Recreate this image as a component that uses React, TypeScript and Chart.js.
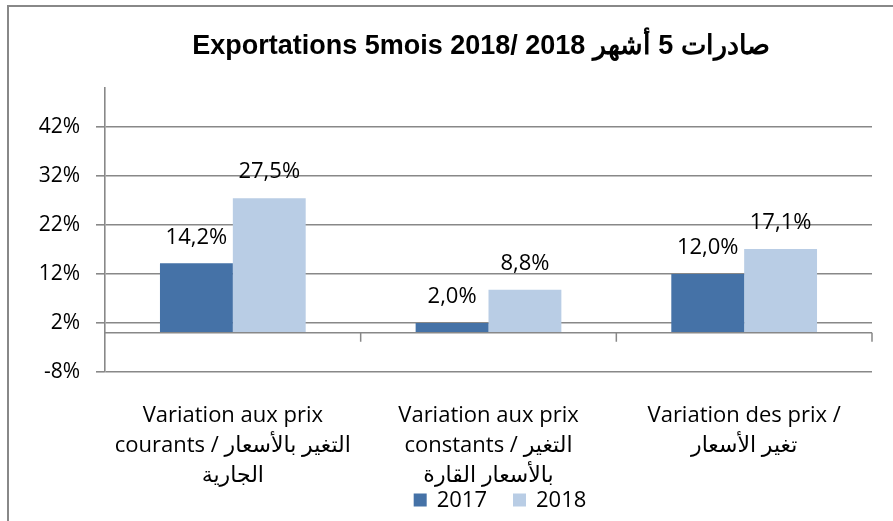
import React, { useEffect, useRef } from "react";
import { Chart, registerables } from "chart.js";

Chart.register(...registerables);

const titleText = "Exportations 5mois 2018/ 2018 صادرات 5 أشهر";
const categories: string[][] = [
  ["Variation aux prix", "courants / التغير بالأسعار", "الجارية"],
  ["Variation aux prix", "constants / التغير", "بالأسعار القارة"],
  ["Variation des prix /", "تغير الأسعار"],
];
const seriesNames = ["2017", "2018"];
const values2017 = [14.2, 2.0, 12.0];
const values2018 = [27.5, 8.8, 17.1];
const yTicks = [-8, 2, 12, 22, 32, 42];
const yMin = -8;
const yMax = 50;

const colors = ["#4572a7", "#b9cde5"];
const gridColor = "#888888";
const fontFamily = "'Open Sans', 'DejaVu Sans', sans-serif";

const fmt = (v: number) => v.toFixed(1).replace(".", ",") + "%";

const customPlugin = {
  id: "custom",
  beforeDraw(chart: any) {
    const ctx = chart.ctx;
    ctx.save();
    ctx.fillStyle = "#ffffff";
    ctx.fillRect(0, 0, chart.width, chart.height);
    ctx.strokeStyle = gridColor;
    ctx.lineWidth = 2;
    ctx.beginPath();
    ctx.moveTo(8, chart.height);
    ctx.lineTo(8, 6);
    ctx.lineTo(chart.width, 6);
    ctx.stroke();
    ctx.fillStyle = "#000";
    ctx.font = "bold 27px 'Liberation Sans', Arial, sans-serif";
    ctx.textAlign = "center";
    ctx.textBaseline = "middle";
    ctx.fillText(titleText, 481, 47);
    ctx.restore();
  },
  afterDatasetsDraw(chart: any) {
    const ctx = chart.ctx;
    const area = chart.chartArea;
    const y0 = chart.scales.y.getPixelForValue(0);
    ctx.save();
    ctx.strokeStyle = gridColor;
    ctx.lineWidth = 1.5;
    ctx.beginPath();
    ctx.moveTo(area.left, y0);
    ctx.lineTo(area.right, y0);
    const n = chart.data.labels.length;
    const w = (area.right - area.left) / n;
    for (let i = 1; i <= n; i++) {
      const x = area.left + i * w;
      ctx.moveTo(x, y0);
      ctx.lineTo(x, y0 + 9);
    }
    ctx.stroke();
    ctx.fillStyle = "#000";
    ctx.font = `22px ${fontFamily}`;
    ctx.textAlign = "center";
    ctx.textBaseline = "middle";
    chart.data.datasets.forEach((ds: any, di: number) => {
      const meta = chart.getDatasetMeta(di);
      meta.data.forEach((bar: any, i: number) => {
        ctx.fillText(fmt(ds.data[i]), bar.x, bar.y - 26);
      });
    });
    ctx.restore();
  },
  afterDraw(chart: any) {
    const ctx = chart.ctx;
    ctx.save();
    ctx.font = `22px ${fontFamily}`;
    ctx.textBaseline = "middle";
    ctx.textAlign = "left";
    const box = 13;
    const gap = 10;
    const spacing = 26;
    const items = chart.data.datasets.map((ds: any) => ({
      label: ds.label,
      color: ds.backgroundColor,
      w: box + gap + ctx.measureText(ds.label).width,
    }));
    const total = items.reduce((s: number, it: any) => s + it.w, 0) + spacing * (items.length - 1);
    let x = 500 - total / 2;
    const y = 500;
    items.forEach((it: any) => {
      ctx.fillStyle = it.color;
      ctx.fillRect(x, y - box / 2, box, box);
      ctx.fillStyle = "#000";
      ctx.fillText(it.label, x + box + gap, y + 1);
      x += it.w + spacing;
    });
    ctx.restore();
  },
};

export default function App() {
  const ref = useRef<HTMLCanvasElement | null>(null);
  useEffect(() => {
    if (!ref.current) return;
    const chart = new Chart(ref.current, {
      type: "bar",
      data: {
        labels: categories,
        datasets: [
          { label: seriesNames[0], data: values2017, backgroundColor: colors[0], categoryPercentage: 0.57, barPercentage: 1 },
          { label: seriesNames[1], data: values2018, backgroundColor: colors[1], categoryPercentage: 0.57, barPercentage: 1 },
        ],
      },
      options: {
        animation: false,
        responsive: false,
        maintainAspectRatio: false,
        devicePixelRatio: 1,
        layout: { padding: { top: 88, right: 21, left: 0, bottom: 0 } },
        plugins: {
          legend: { display: false },
          title: { display: false },
          tooltip: { enabled: false },
        },
        scales: {
          x: {
            grid: { display: false },
            border: { display: false },
            ticks: {
              autoSkip: false,
              maxRotation: 0,
              minRotation: 0,
              color: "#000",
              padding: 21,
              font: { family: fontFamily, size: 22, lineHeight: "30px" },
            },
            afterFit(scale: any) {
              scale.height = 149;
            },
          },
          y: {
            min: yMin,
            max: yMax,
            afterBuildTicks(scale: any) {
              scale.ticks = yTicks.map((v) => ({ value: v }));
            },
            grid: { color: gridColor, lineWidth: 1.6, tickLength: 9, drawTicks: true },
            border: { display: true, color: gridColor, width: 1.6 },
            ticks: {
              color: "#000",
              padding: 16,
              font: { family: fontFamily, size: 21 },
              callback: (v: any) => v + "%",
            },
            afterFit(scale: any) {
              scale.width = 105;
            },
          },
        },
      },
      plugins: [customPlugin],
    });
    return () => chart.destroy();
  }, []);
  return (
    <div style={{ position: "absolute", left: 0, top: 0, width: 893, height: 521 }}>
      <canvas ref={ref} width={893} height={521} style={{ display: "block" }} />
    </div>
  );
}
